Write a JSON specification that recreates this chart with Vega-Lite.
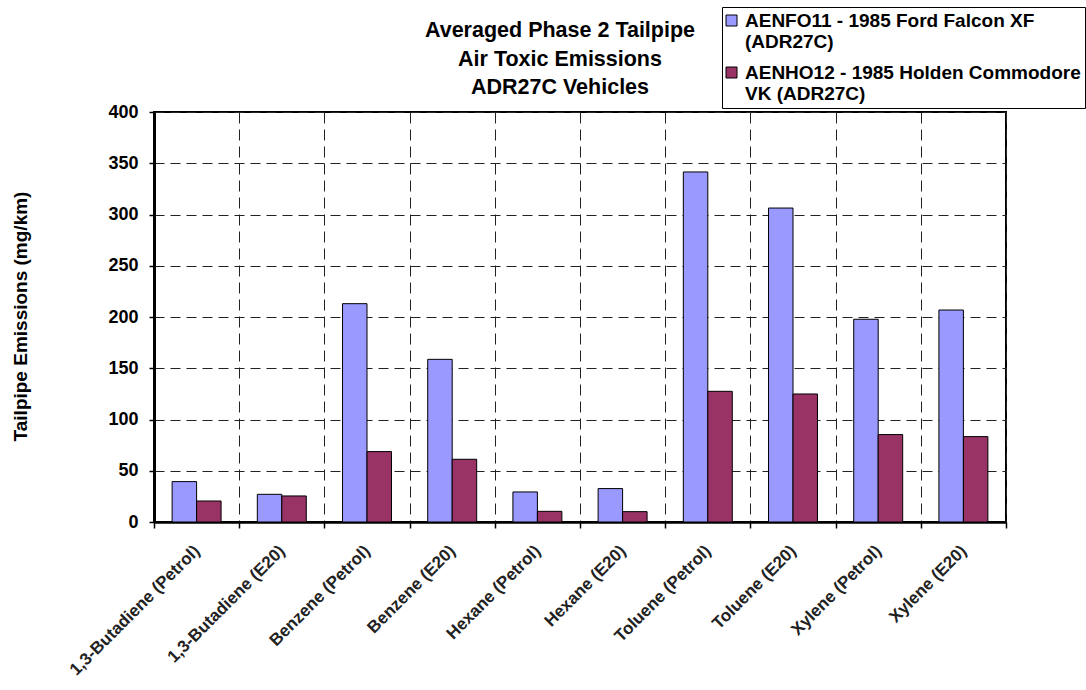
{
  "$schema": "https://vega.github.io/schema/vega-lite/v6.json",
  "autosize": "none",
  "width": 852,
  "height": 410,
  "padding": {"left": 154, "top": 112, "right": 80, "bottom": 168},
  "background": "white",
  "config": {
    "font": "Liberation Sans",
    "view": {"stroke": "black", "strokeWidth": 2}
  },
  "title": {
    "text": ["Averaged Phase 2 Tailpipe", "Air Toxic Emissions", "ADR27C Vehicles"],
    "font": "Liberation Sans",
    "fontSize": 21.5,
    "fontWeight": "bold",
    "color": "black",
    "anchor": "middle",
    "frame": "group",
    "orient": "top",
    "baseline": "top",
    "offset": 0,
    "dy": 92,
    "dx": -20,
    "lineHeight": 28.5
  },
  "data": {
    "values": [
      {"compound": "1,3-Butadiene (Petrol)", "vehicle": "AENFO11 - 1985 Ford Falcon XF (ADR27C)", "emission": 39.4},
      {"compound": "1,3-Butadiene (Petrol)", "vehicle": "AENHO12 - 1985 Holden Commodore VK (ADR27C)", "emission": 20.5},
      {"compound": "1,3-Butadiene (E20)", "vehicle": "AENFO11 - 1985 Ford Falcon XF (ADR27C)", "emission": 27.0},
      {"compound": "1,3-Butadiene (E20)", "vehicle": "AENHO12 - 1985 Holden Commodore VK (ADR27C)", "emission": 25.4},
      {"compound": "Benzene (Petrol)", "vehicle": "AENFO11 - 1985 Ford Falcon XF (ADR27C)", "emission": 213.0},
      {"compound": "Benzene (Petrol)", "vehicle": "AENHO12 - 1985 Holden Commodore VK (ADR27C)", "emission": 68.7},
      {"compound": "Benzene (E20)", "vehicle": "AENFO11 - 1985 Ford Falcon XF (ADR27C)", "emission": 158.7},
      {"compound": "Benzene (E20)", "vehicle": "AENHO12 - 1985 Holden Commodore VK (ADR27C)", "emission": 61.2},
      {"compound": "Hexane (Petrol)", "vehicle": "AENFO11 - 1985 Ford Falcon XF (ADR27C)", "emission": 29.3},
      {"compound": "Hexane (Petrol)", "vehicle": "AENHO12 - 1985 Holden Commodore VK (ADR27C)", "emission": 10.4},
      {"compound": "Hexane (E20)", "vehicle": "AENFO11 - 1985 Ford Falcon XF (ADR27C)", "emission": 32.6},
      {"compound": "Hexane (E20)", "vehicle": "AENHO12 - 1985 Holden Commodore VK (ADR27C)", "emission": 10.1},
      {"compound": "Toluene (Petrol)", "vehicle": "AENFO11 - 1985 Ford Falcon XF (ADR27C)", "emission": 341.5},
      {"compound": "Toluene (Petrol)", "vehicle": "AENHO12 - 1985 Holden Commodore VK (ADR27C)", "emission": 127.5},
      {"compound": "Toluene (E20)", "vehicle": "AENFO11 - 1985 Ford Falcon XF (ADR27C)", "emission": 306.3},
      {"compound": "Toluene (E20)", "vehicle": "AENHO12 - 1985 Holden Commodore VK (ADR27C)", "emission": 124.9},
      {"compound": "Xylene (Petrol)", "vehicle": "AENFO11 - 1985 Ford Falcon XF (ADR27C)", "emission": 197.8},
      {"compound": "Xylene (Petrol)", "vehicle": "AENHO12 - 1985 Holden Commodore VK (ADR27C)", "emission": 85.3},
      {"compound": "Xylene (E20)", "vehicle": "AENFO11 - 1985 Ford Falcon XF (ADR27C)", "emission": 206.8},
      {"compound": "Xylene (E20)", "vehicle": "AENHO12 - 1985 Holden Commodore VK (ADR27C)", "emission": 83.3}
    ]
  },
  "mark": {"type": "bar", "stroke": "black", "strokeWidth": 1},
  "encoding": {
    "x": {
      "field": "compound",
      "type": "nominal",
      "sort": null,
      "scale": {"paddingInner": 0, "paddingOuter": 0},
      "axis": {
        "title": null,
        "tickBand": "extent",
        "grid": true,
        "gridDash": [11, 6],
        "gridColor": "#222222",
        "gridWidth": 1,
        "domainColor": "black",
        "domainWidth": 2.5,
        "tickColor": "black",
        "tickWidth": 1.5,
        "tickSize": 6,
        "labelAngle": -45,
        "labelAlign": "right",
        "labelBaseline": "middle",
        "labelFont": "Liberation Sans",
        "labelFontSize": 17,
        "labelFontWeight": "bold",
        "labelColor": "#222222",
        "labelPadding": 20,
        "labelLimit": 300
      }
    },
    "xOffset": {
      "field": "vehicle",
      "type": "nominal",
      "scale": {"paddingInner": 0, "paddingOuter": 0.74}
    },
    "y": {
      "field": "emission",
      "type": "quantitative",
      "scale": {"domain": [0, 400], "nice": false},
      "axis": {
        "title": "Tailpipe Emissions (mg/km)",
        "titleFont": "Liberation Sans",
        "titleFontSize": 19,
        "titleFontWeight": "bold",
        "titleColor": "black",
        "titleAngle": -90,
        "titleX": -134,
        "titleY": 204,
        "titleAlign": "center",
        "titleBaseline": "middle",
        "values": [0, 50, 100, 150, 200, 250, 300, 350, 400],
        "grid": true,
        "gridDash": [10, 6],
        "gridColor": "#222222",
        "gridWidth": 1,
        "domainColor": "black",
        "domainWidth": 3,
        "tickColor": "black",
        "tickWidth": 1.5,
        "tickSize": 5,
        "labelFont": "Liberation Sans",
        "labelFontSize": 18,
        "labelFontWeight": "bold",
        "labelColor": "black",
        "labelPadding": 11
      }
    },
    "color": {
      "field": "vehicle",
      "type": "nominal",
      "scale": {
        "domain": ["AENFO11 - 1985 Ford Falcon XF (ADR27C)", "AENHO12 - 1985 Holden Commodore VK (ADR27C)"],
        "range": ["#9999FF", "#993366"]
      },
      "legend": {
        "title": null,
        "orient": "none",
        "legendX": 568,
        "legendY": -105,
        "strokeColor": "black",
        "fillColor": "white",
        "padding": 4,
        "symbolType": "square",
        "symbolSize": 121,
        "symbolOffset": -4,
        "symbolStrokeColor": "black",
        "symbolStrokeWidth": 1,
        "labelFont": "Liberation Sans",
        "labelFontSize": 19,
        "labelFontWeight": "bold",
        "labelColor": "black",
        "labelLimit": 400,
        "labelOffset": 4,
        "labelExpr": "indexof(datum.label, 'Ford') >= 0 ? ['AENFO11 - 1985 Ford Falcon XF', '(ADR27C)'] : ['AENHO12 - 1985 Holden Commodore', 'VK (ADR27C)']",
        "rowPadding": 11
      }
    }
  }
}
